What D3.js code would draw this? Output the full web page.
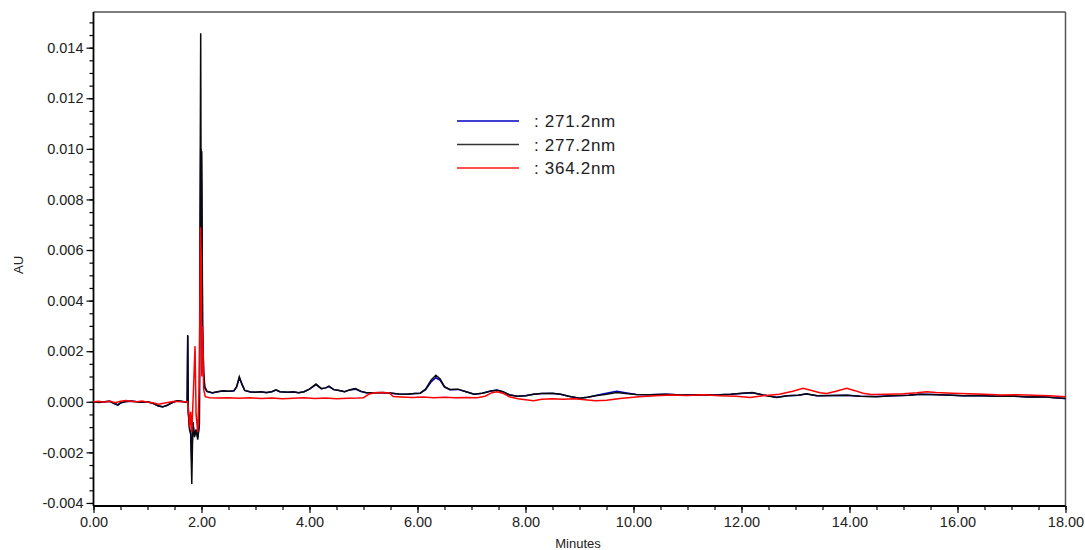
<!DOCTYPE html>
<html>
<head>
<meta charset="utf-8">
<script src="https://cdn.jsdelivr.net/npm/d3@7"></script>
<style>
  html, body { margin: 0; padding: 0; background: #fff; overflow: hidden; }
  svg { display: block; }
  text { font-family: "Liberation Sans", Arial, sans-serif; fill: #222; }
</style>
</head>
<body>
<svg id="chart" width="1085" height="550"></svg>
<script>
// Chromatogram traces: [minutes, AU]
const trace271 = [
  [0.00,0.00000],[0.10,-0.00003],[0.20,0.00000],[0.30,0.00002],[0.40,-0.00009],[0.45,-0.00013],[0.50,-0.00005],
  [0.60,0.00001],[0.70,0.00002],[0.80,0.00000],[0.90,-0.00002],[1.00,0.00000],[1.10,-0.00006],[1.20,-0.00017],
  [1.28,-0.00020],[1.36,-0.00015],[1.45,-0.00004],[1.55,0.00004],[1.62,0.00002],[1.70,-0.00001],[1.735,0.00000],
  [1.745,0.00260],[1.755,-0.00040],[1.78,-0.00110],[1.80,-0.00120],[1.82,-0.00240],[1.84,-0.00080],[1.87,-0.00135],
  [1.90,-0.00110],[1.93,-0.00140],[1.96,-0.00090],[1.985,0.01000],[1.995,0.00990],[2.005,0.00800],[2.02,0.00280],
  [2.04,0.00110],[2.06,0.00055],[2.10,0.00040],[2.20,0.00035],[2.30,0.00040],[2.40,0.00043],[2.50,0.00042],
  [2.60,0.00043],[2.65,0.00058],[2.70,0.00095],[2.75,0.00068],[2.80,0.00045],[2.90,0.00039],[3.00,0.00038],
  [3.10,0.00040],[3.20,0.00036],[3.30,0.00040],[3.38,0.00046],[3.45,0.00040],[3.60,0.00038],[3.70,0.00039],
  [3.80,0.00036],[3.90,0.00040],[4.00,0.00050],[4.12,0.00068],[4.22,0.00052],[4.30,0.00055],[4.36,0.00060],
  [4.45,0.00048],[4.55,0.00045],[4.65,0.00040],[4.75,0.00047],[4.85,0.00050],[4.95,0.00041],[5.05,0.00036],
  [5.20,0.00036],[5.35,0.00036],[5.50,0.00034],[5.65,0.00031],[5.80,0.00030],[5.95,0.00033],[6.05,0.00034],
  [6.15,0.00048],[6.25,0.00078],[6.34,0.00095],[6.42,0.00085],[6.50,0.00058],[6.60,0.00048],[6.75,0.00049],
  [6.90,0.00040],[7.05,0.00030],[7.20,0.00034],[7.35,0.00043],[7.47,0.00047],[7.58,0.00040],[7.70,0.00027],
  [7.85,0.00022],[8.00,0.00024],[8.15,0.00030],[8.30,0.00033],[8.50,0.00033],[8.65,0.00030],[8.80,0.00022],
  [9.00,0.00014],[9.15,0.00018],[9.30,0.00025],[9.50,0.00034],[9.69,0.00042],[9.85,0.00036],[10.05,0.00029],
  [10.30,0.00028],[10.60,0.00030],[10.90,0.00027],[11.20,0.00028],[11.50,0.00027],[11.80,0.00030],[12.00,0.00033],
  [12.20,0.00036],[12.40,0.00027],[12.65,0.00018],[12.85,0.00024],[13.05,0.00026],[13.20,0.00031],[13.40,0.00024],
  [13.70,0.00025],[13.95,0.00026],[14.20,0.00022],[14.50,0.00021],[14.80,0.00024],[15.10,0.00026],[15.30,0.00030],
  [15.50,0.00029],[15.80,0.00027],[16.10,0.00024],[16.40,0.00025],[16.70,0.00022],[17.00,0.00023],[17.30,0.00019],
  [17.60,0.00020],[17.80,0.00016],[18.00,0.00013]
];

const trace277 = [
  [0.00,0.00000],[0.10,-0.00002],[0.20,0.00000],[0.30,0.00002],[0.40,-0.00008],[0.45,-0.00012],[0.50,-0.00004],
  [0.60,0.00001],[0.70,0.00003],[0.80,0.00000],[0.90,-0.00002],[1.00,0.00000],[1.10,-0.00006],[1.20,-0.00016],
  [1.28,-0.00020],[1.36,-0.00014],[1.45,-0.00004],[1.55,0.00004],[1.62,0.00002],[1.70,-0.00001],[1.735,0.00000],
  [1.745,0.00264],[1.755,-0.00040],[1.78,-0.00110],[1.80,-0.00130],[1.82,-0.00325],[1.84,-0.00080],[1.87,-0.00140],
  [1.90,-0.00110],[1.93,-0.00150],[1.96,-0.00090],[1.985,0.01457],[1.995,0.00600],[2.005,0.00990],[2.02,0.00300],
  [2.04,0.00120],[2.06,0.00060],[2.10,0.00042],[2.20,0.00036],[2.30,0.00040],[2.40,0.00044],[2.50,0.00042],
  [2.60,0.00044],[2.65,0.00060],[2.70,0.00099],[2.75,0.00070],[2.80,0.00045],[2.90,0.00040],[3.00,0.00038],
  [3.10,0.00040],[3.20,0.00037],[3.30,0.00040],[3.38,0.00047],[3.45,0.00040],[3.60,0.00038],[3.70,0.00040],
  [3.80,0.00036],[3.90,0.00040],[4.00,0.00050],[4.12,0.00070],[4.22,0.00052],[4.30,0.00055],[4.36,0.00062],
  [4.45,0.00048],[4.55,0.00045],[4.65,0.00040],[4.75,0.00048],[4.85,0.00052],[4.95,0.00042],[5.05,0.00036],
  [5.20,0.00036],[5.35,0.00037],[5.50,0.00035],[5.65,0.00031],[5.80,0.00030],[5.95,0.00033],[6.05,0.00034],
  [6.15,0.00050],[6.25,0.00085],[6.34,0.00105],[6.42,0.00090],[6.50,0.00060],[6.60,0.00049],[6.75,0.00050],
  [6.90,0.00040],[7.05,0.00030],[7.20,0.00034],[7.35,0.00042],[7.47,0.00046],[7.58,0.00040],[7.70,0.00028],
  [7.85,0.00022],[8.00,0.00024],[8.15,0.00030],[8.30,0.00033],[8.50,0.00034],[8.65,0.00030],[8.80,0.00022],
  [9.00,0.00014],[9.15,0.00018],[9.30,0.00024],[9.50,0.00030],[9.69,0.00037],[9.85,0.00033],[10.05,0.00029],
  [10.30,0.00028],[10.60,0.00030],[10.90,0.00027],[11.20,0.00028],[11.50,0.00027],[11.80,0.00030],[12.00,0.00034],
  [12.20,0.00037],[12.40,0.00027],[12.65,0.00017],[12.85,0.00024],[13.05,0.00026],[13.20,0.00032],[13.40,0.00024],
  [13.70,0.00025],[13.95,0.00026],[14.20,0.00022],[14.50,0.00020],[14.80,0.00024],[15.10,0.00026],[15.30,0.00030],
  [15.50,0.00029],[15.80,0.00027],[16.10,0.00024],[16.40,0.00025],[16.70,0.00022],[17.00,0.00023],[17.30,0.00019],
  [17.60,0.00020],[17.80,0.00016],[18.00,0.00013]
];

const trace364 = [
  [0.00,0.00000],[0.10,0.00002],[0.20,-0.00002],[0.30,0.00003],[0.40,-0.00004],[0.50,0.00002],[0.60,0.00005],
  [0.70,0.00002],[0.80,0.00000],[0.90,0.00003],[1.00,-0.00002],[1.10,-0.00004],[1.20,-0.00010],[1.30,-0.00006],
  [1.40,-0.00002],[1.50,0.00002],[1.60,0.00000],[1.70,0.00000],[1.74,0.00000],[1.76,-0.00030],[1.78,-0.00100],
  [1.80,-0.00040],[1.82,-0.00120],[1.85,0.00040],[1.88,0.00220],[1.90,-0.00050],[1.93,-0.00120],[1.96,0.00070],
  [1.98,0.00690],[1.995,0.00570],[2.005,0.00100],[2.02,0.00300],[2.04,0.00050],[2.07,0.00020],[2.15,0.00016],
  [2.30,0.00015],[2.50,0.00016],[2.70,0.00014],[2.90,0.00016],[3.10,0.00013],[3.30,0.00015],[3.50,0.00012],
  [3.70,0.00014],[3.90,0.00016],[4.10,0.00013],[4.30,0.00015],[4.50,0.00012],[4.70,0.00014],[4.90,0.00015],
  [5.00,0.00016],[5.10,0.00030],[5.20,0.00036],[5.35,0.00037],[5.48,0.00035],[5.55,0.00021],[5.70,0.00019],
  [5.90,0.00017],[6.10,0.00019],[6.30,0.00016],[6.50,0.00018],[6.70,0.00016],[6.90,0.00017],[7.10,0.00016],
  [7.25,0.00022],[7.38,0.00036],[7.47,0.00040],[7.58,0.00034],[7.70,0.00020],[7.86,0.00012],[8.00,0.00008],
  [8.15,0.00004],[8.30,0.00010],[8.50,0.00012],[8.70,0.00010],[8.90,0.00012],[9.10,0.00008],[9.30,0.00004],
  [9.50,0.00006],[9.75,0.00013],[10.10,0.00020],[10.40,0.00024],[10.70,0.00027],[11.00,0.00025],[11.30,0.00028],
  [11.60,0.00024],[11.90,0.00022],[12.16,0.00017],[12.40,0.00024],[12.70,0.00030],[12.95,0.00042],[13.14,0.00053],
  [13.30,0.00045],[13.45,0.00036],[13.58,0.00033],[13.75,0.00042],[13.95,0.00053],[14.10,0.00044],[14.25,0.00034],
  [14.40,0.00029],[14.70,0.00030],[15.00,0.00032],[15.25,0.00036],[15.43,0.00040],[15.60,0.00037],[15.90,0.00034],
  [16.20,0.00032],[16.50,0.00030],[16.80,0.00027],[17.10,0.00028],[17.40,0.00026],[17.70,0.00024],[18.00,0.00020]
];

const seriesNames = [": 271.2nm", ": 277.2nm", ": 364.2nm"];
const seriesColors = ["#0000c0", "#0a0a0a", "#ff0000"];
const legendColors = ["#0000c0", "#333333", "#ff1a1a"];
const xMajorTicks = [0, 2, 4, 6, 8, 10, 12, 14, 16, 18];
const yMajorTicks = [-0.004, -0.002, 0, 0.002, 0.004, 0.006, 0.008, 0.010, 0.012, 0.014];

const svg = d3.select("#chart");
const plotLeft = 93.5, plotRight = 1065.5, plotTop = 12, plotBottom = 506;

const x = d3.scaleLinear().domain([0, 18]).range([plotLeft, plotRight]);
const y = d3.scaleLinear().domain([-0.00412, 0.01541]).range([plotBottom, plotTop]);

// frame: top and right borders
svg.append("line").attr("x1", plotLeft).attr("x2", plotRight).attr("y1", plotTop).attr("y2", plotTop)
  .attr("stroke", "#000").attr("stroke-width", 1.2);
svg.append("line").attr("x1", plotRight).attr("x2", plotRight).attr("y1", plotTop).attr("y2", plotBottom)
  .attr("stroke", "#555").attr("stroke-width", 1.5);

// minor ticks
const yMinor = d3.range(-0.004, 0.01501, 0.0005);
svg.append("g").attr("transform", `translate(${plotLeft},0)`)
  .call(d3.axisLeft(y).tickValues(yMinor).tickSize(4).tickFormat(""))
  .call(g => g.select(".domain").remove())
  .call(g => g.selectAll("line").attr("stroke", "#000").attr("stroke-width", 1.2));
const xMinor = d3.range(0, 18.01, 0.5);
svg.append("g").attr("transform", `translate(0,${plotBottom})`)
  .call(d3.axisBottom(x).tickValues(xMinor).tickSize(4).tickFormat(""))
  .call(g => g.select(".domain").remove())
  .call(g => g.selectAll("line").attr("stroke", "#000").attr("stroke-width", 1.2));

// major axes
const yAxis = svg.append("g").attr("transform", `translate(${plotLeft},0)`)
  .call(d3.axisLeft(y).tickValues(yMajorTicks).tickSize(7).tickPadding(3)
    .tickFormat(d => d3.format(".3f")(d).replace("−", "-")));
yAxis.select(".domain").attr("d", `M0,${plotTop}V${plotBottom}`).attr("stroke", "#000").attr("stroke-width", 1.8);
yAxis.selectAll("line").attr("stroke", "#000").attr("stroke-width", 1.2);
yAxis.selectAll("text").attr("font-size", "14.5px").attr("font-family", "Liberation Sans, Arial, sans-serif").attr("fill", "#222");

const xAxis = svg.append("g").attr("transform", `translate(0,${plotBottom})`)
  .call(d3.axisBottom(x).tickValues(xMajorTicks).tickSize(7).tickPadding(4)
    .tickFormat(d3.format(".2f")));
xAxis.select(".domain").attr("d", `M${plotLeft},0H${plotRight}`).attr("stroke", "#000").attr("stroke-width", 1.8);
xAxis.selectAll("line").attr("stroke", "#000").attr("stroke-width", 1.2);
xAxis.selectAll("text").attr("font-size", "14.5px").attr("font-family", "Liberation Sans, Arial, sans-serif").attr("fill", "#222");

// axis titles
svg.append("text").attr("x", 578).attr("y", 548).attr("text-anchor", "middle")
  .attr("font-size", "13px").text("Minutes");
svg.append("text").attr("transform", "translate(23,265) rotate(-90)").attr("text-anchor", "middle")
  .attr("font-size", "13px").text("AU");

// traces
const line = d3.line().x(d => x(d[0])).y(d => y(d[1]));
const plot = svg.append("g");
[trace271, trace277, trace364].forEach((data, i) => {
  plot.append("path").datum(data).attr("d", line)
    .attr("fill", "none").attr("stroke", seriesColors[i])
    .attr("stroke-width", 1.5).attr("stroke-linejoin", "miter");
});

// legend
const legend = svg.append("g");
seriesNames.forEach((name, i) => {
  const ly = 121 + i * 23.5;
  legend.append("line").attr("x1", 457).attr("x2", 519).attr("y1", ly).attr("y2", ly)
    .attr("stroke", legendColors[i]).attr("stroke-width", 1.4);
  legend.append("text").attr("x", 534).attr("y", ly + 6).attr("font-size", "17px")
    .attr("letter-spacing", "0.7px").attr("fill", "#222").text(name);
});
</script>
</body>
</html>
